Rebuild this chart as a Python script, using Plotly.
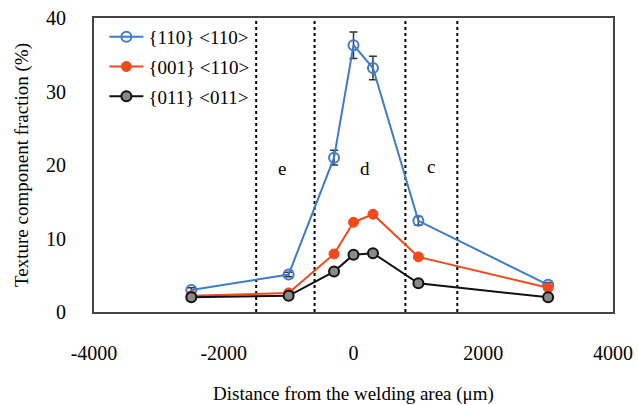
import plotly.graph_objects as go

# Data
distance = [-2500, -1000, -300, 0, 300, 1000, 3000]
tex_110_110 = [3.0, 5.1, 21.0, 36.3, 33.2, 12.4, 3.7]
tex_110_110_err = [0.3, 0.3, 1.0, 1.8, 1.6, 0.6, 0.3]
tex_001_110 = [2.2, 2.6, 7.9, 12.2, 13.3, 7.5, 3.3]
tex_011_011 = [2.0, 2.2, 5.5, 7.8, 8.0, 3.9, 2.0]

series_names = ["{110} &lt;110&gt;", "{001} &lt;110&gt;", "{011} &lt;011&gt;"]

zone_bounds = [-1500, -600, 800, 1600]
zone_labels = ["e", "d", "c"]
zone_label_x = [-1100, 170, 1200]
zone_label_y = [19.5, 19.5, 19.8]

x_ticks = [-4000, -2000, 0, 2000, 4000]
y_ticks = [0, 10, 20, 30, 40]

FONT = "Times New Roman, Liberation Serif, serif"
BLUE = "#3F7BC9"
ORANGE = "#F04A1C"

fig = go.Figure()

fig.add_trace(go.Scatter(
    x=distance, y=tex_110_110, name=series_names[0], mode="lines+markers",
    legendgroup="a",
    line=dict(color=BLUE, width=2),
    marker=dict(symbol="circle-open", size=10, color=BLUE, line=dict(width=2, color=BLUE)),
    error_y=dict(type="data", array=tex_110_110_err, color="#333333", thickness=1.5, width=4),
))
fig.add_trace(go.Scatter(
    x=distance, y=tex_001_110, name=series_names[1], mode="lines+markers",
    legendgroup="b",
    line=dict(color=ORANGE, width=2),
    marker=dict(symbol="circle", size=10, color=ORANGE, line=dict(width=1, color=ORANGE)),
))
fig.add_trace(go.Scatter(
    x=distance, y=tex_011_011, name=series_names[2], mode="lines+markers",
    legendgroup="c",
    line=dict(color="#111111", width=2),
    marker=dict(symbol="circle", size=10, color="#8a8a8a", line=dict(width=2, color="#111111")),
))

for xb in zone_bounds:
    fig.add_shape(type="line", x0=xb, x1=xb, y0=0, y1=1, xref="x", yref="paper",
                  line=dict(color="black", width=2, dash="3px,3px"), layer="below")

for lab, lx, ly in zip(zone_labels, zone_label_x, zone_label_y):
    fig.add_annotation(x=lx, y=ly, text=lab, showarrow=False,
                       font=dict(family=FONT, size=19, color="black"))

fig.update_layout(
    width=638, height=405,
    autosize=False,
    margin=dict(l=94, r=25, t=18, b=93, autoexpand=False),
    paper_bgcolor="white", plot_bgcolor="white",
    font=dict(family=FONT, size=19, color="black"),
    showlegend=True,
    legend=dict(x=0.02, y=1.0, xanchor="left", yanchor="top",
                bgcolor="rgba(255,255,255,0)", borderwidth=0,
                font=dict(family=FONT, size=19, color="black"),
                tracegroupgap=2, itemwidth=34),
)
fig.update_xaxes(range=[-4000, 4000], tickvals=x_ticks, ticktext=[str(v) for v in x_ticks],
                 automargin=False,
                 showgrid=False, zeroline=False, showline=True, mirror=True,
                 linecolor="#444444", linewidth=2, ticks="", ticklabelstandoff=22,
                 tickfont=dict(family=FONT, size=20, color="black"),
                 title=dict(text="Distance from the welding area (μm)", standoff=24,
                            font=dict(family=FONT, size=19, color="black")))
fig.update_yaxes(range=[0, 40], tickvals=y_ticks,
                 automargin=False,
                 showgrid=False, zeroline=False, showline=True, mirror=True,
                 linecolor="#444444", linewidth=2, ticks="", ticklabelstandoff=22,
                 tickfont=dict(family=FONT, size=20, color="black"),
                 title=dict(text="Texture component fraction (%)", standoff=12,
                            font=dict(family=FONT, size=19, color="black")))

fig.write_html("out.html")
